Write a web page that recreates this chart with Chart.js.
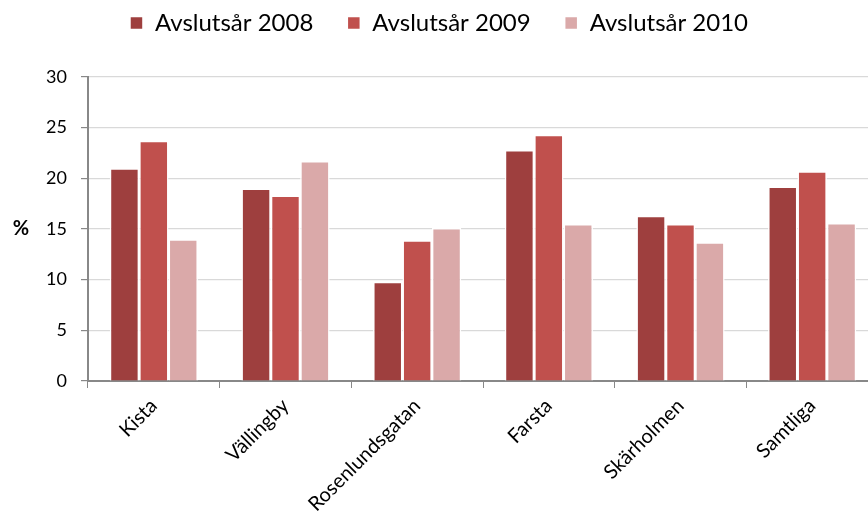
<!DOCTYPE html>
<html lang="sv">
<head>
<meta charset="UTF-8">
<title>Avslutsår</title>
<script src="https://cdn.jsdelivr.net/npm/chart.js"></script>
<style>
    html, body { margin: 0; padding: 0; background: #fff; overflow: hidden; }
    .wrap { width: 878px; height: 526px; }
</style>
</head>
<body>
<div class="wrap"><canvas id="chart"></canvas></div>
<script>
    // Data
    const categories = ['Kista', 'Vällingby', 'Rosenlundsgatan', 'Farsta', 'Skärholmen', 'Samtliga'];
    const seriesNames = ['Avslutsår 2008', 'Avslutsår 2009', 'Avslutsår 2010'];
    const values2008 = [21.0, 19.0, 9.8, 22.8, 16.3, 19.2];
    const values2009 = [23.7, 18.3, 13.9, 24.3, 15.5, 20.7];
    const values2010 = [14.0, 21.7, 15.1, 15.5, 13.7, 15.6];
    const yTicks = [0, 5, 10, 15, 20, 25, 30];

    const colors = ['#9e3f3e', '#c0504d', '#daa9a9'];
    const font = 'Lato, "Open Sans", sans-serif';

    // "%" label to the left of the y axis
    const percentLabel = {
        id: 'percentLabel',
        afterDraw(chart) {
            const ctx = chart.ctx;
            const area = chart.chartArea;
            ctx.save();
            ctx.font = 'bold 20px ' + font;
            ctx.fillStyle = '#000';
            ctx.textAlign = 'center';
            ctx.textBaseline = 'middle';
            ctx.fillText('%', 21, (area.top + area.bottom) / 2);
            ctx.restore();
        }
    };

    // more room between the legend and the plot
    const legendGap = {
        id: 'legendGap',
        beforeUpdate(chart) {
            const legend = chart.legend;
            if (legend && !legend._gapPatched) {
                const fit = legend.fit;
                legend.fit = function () {
                    fit.call(this);
                    this.height += 32;
                };
                legend._gapPatched = true;
            }
        }
    };

    new Chart(document.getElementById('chart'), {
        type: 'bar',
        data: {
            labels: categories,
            datasets: [values2008, values2009, values2010].map((d, i) => ({
                label: seriesNames[i],
                data: d,
                backgroundColor: colors[i],
                borderColor: '#ffffff',
                borderWidth: 1.5,
                categoryPercentage: 0.67,
                barPercentage: 1.0
            }))
        },
        options: {
            responsive: true,
            maintainAspectRatio: false,
            animation: false,
            layout: { padding: { top: -23, left: 0, right: 0, bottom: 0 } },
            plugins: {
                legend: {
                    position: 'top',
                    labels: {
                        font: { family: font, size: 24 },
                        color: '#000',
                        boxWidth: 13,
                        boxHeight: 13,
                        padding: 34
                    }
                },
                tooltip: { enabled: false }
            },
            scales: {
                x: {
                    afterFit(scale) { scale.height = 145; },
                    grid: { display: true, drawOnChartArea: false, offset: true, tickLength: 7, color: '#888' },
                    border: { color: '#888', width: 2 },
                    ticks: {
                        font: { family: font, size: 20 },
                        color: '#000',
                        maxRotation: 45,
                        minRotation: 45,
                        padding: 6
                    }
                },
                y: {
                    min: 0,
                    max: 30,
                    afterFit(scale) { scale.width = 88; },
                    afterBuildTicks(scale) { scale.ticks = yTicks.map(v => ({ value: v })); },
                    grid: { color: '#d9d9d9', lineWidth: 1.2, tickLength: 7, tickColor: '#888' },
                    border: { color: '#888', width: 2 },
                    ticks: {
                        font: { family: font, size: 18 },
                        color: '#000',
                        padding: 14
                    }
                }
            }
        },
        plugins: [percentLabel, legendGap]
    });
</script>
</body>
</html>
